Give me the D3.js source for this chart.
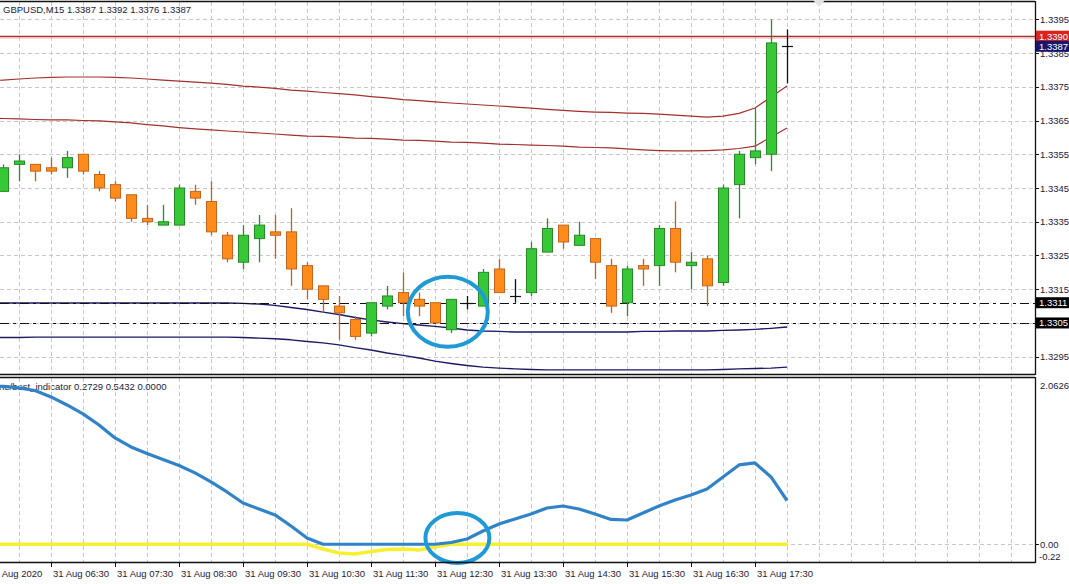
<!DOCTYPE html>
<html><head><meta charset="utf-8">
<script src="https://cdn.jsdelivr.net/npm/d3@7"></script>
<style>
body{margin:0;background:#fff}
svg{display:block}
text{font-family:"Liberation Sans",Arial,sans-serif;font-size:9.5px;fill:#1b1b3a}
</style></head>
<body><svg id="c" width="1069" height="584"></svg>
<script>
// ---------- DATA ----------
const symbolTitle = "GBPUSD,M15  1.3387 1.3392 1.3376 1.3387";
const indicatorTitle = "ne/best_indicator 0.2729 0.5432 0.0000";

// candle bars, index 0..49 (05:45 .. 18:00, 15 min)
const opens  = [1.3344,1.3352,1.3352,1.3351,1.3351,1.3355,1.3349,1.3346,1.3343,1.3336,
                1.3334,1.3334,1.3344,1.3341,1.3331,1.3323,1.3330,1.3332,1.3332,1.3322,
                1.3316,1.3310,1.3306,1.3302,1.3310,1.3314,1.3312,1.3311,1.3303,1.3311,
                1.3310,1.3321,1.3313,1.3314,1.3326,1.3334,1.3328,1.3330,1.3322,1.3311,
                1.3322,1.3322,1.3333,1.3322,1.3324,1.3317,1.3346,1.3354,1.3355,1.3387];
const highs  = [1.3352,1.3355,1.3352,1.3354,1.3356,1.3355,1.3350,1.3347,1.3343,1.3340,
                1.3340,1.3346,1.3346,1.3347,1.3332,1.3334,1.3337,1.3337,1.3339,1.3323,
                1.3316,1.3313,1.3307,1.3311,1.3316,1.3320,1.3314,1.3311,1.3312,1.3313,
                1.3321,1.3324,1.3318,1.3329,1.3336,1.3334,1.3335,1.3330,1.3324,1.3322,
                1.3324,1.3334,1.3341,1.3326,1.3325,1.3346,1.3356,1.3369,1.3395,1.3392];
const lows   = [1.3344,1.3347,1.3347,1.3349,1.3348,1.3349,1.3344,1.3341,1.3335,1.3334,
                1.3334,1.3334,1.3340,1.3331,1.3323,1.3321,1.3323,1.3324,1.3316,1.3312,
                1.3308,1.3300,1.3300,1.3301,1.3309,1.3307,1.3307,1.3305,1.3302,1.3309,
                1.3310,1.3314,1.3311,1.3313,1.3326,1.3327,1.3328,1.3318,1.3308,1.3307,
                1.3316,1.3316,1.3320,1.3315,1.3310,1.3316,1.3336,1.3352,1.3350,1.3376];
const closes = [1.3351,1.3353,1.3350,1.3350,1.3354,1.3350,1.3345,1.3342,1.3336,1.3335,
                1.3335,1.3345,1.3342,1.3332,1.3324,1.3331,1.3334,1.3331,1.3321,1.3315,
                1.3312,1.3308,1.3301,1.3311,1.3313,1.3311,1.3310,1.3305,1.3312,1.3311,
                1.3320,1.3314,1.3313,1.3327,1.3333,1.3329,1.3331,1.3323,1.3310,1.3321,
                1.3321,1.3333,1.3323,1.3323,1.3316,1.3345,1.3355,1.3356,1.3388,1.3387];

// indicator-line bars, index -1..49
const lineStart = -1;
const upperRed = [1.33767,1.33770,1.33773,1.33776,1.33778,1.33779,1.33779,1.33779,1.33778,1.33776,
                  1.33773,1.33770,1.33767,1.33764,1.33761,1.33757,1.33752,1.33749,1.33745,1.33740,
                  1.33737,1.33733,1.33730,1.33726,1.33721,1.33717,1.33712,1.33709,1.33705,1.33702,
                  1.33699,1.33696,1.33693,1.33690,1.33687,1.33683,1.33680,1.33677,1.33675,1.33674,
                  1.33672,1.33671,1.33669,1.33666,1.33663,1.33660,1.33663,1.33671,1.33687,1.33720,1.33752];
const lowerRed = [1.33658,1.33656,1.33655,1.33653,1.33652,1.33652,1.33650,1.33649,1.33646,1.33643,
                  1.33638,1.33634,1.33629,1.33625,1.33622,1.33619,1.33616,1.33613,1.33610,1.33607,
                  1.33604,1.33603,1.33601,1.33598,1.33597,1.33595,1.33592,1.33591,1.33589,1.33586,
                  1.33585,1.33583,1.33580,1.33579,1.33577,1.33576,1.33574,1.33571,1.33570,1.33569,
                  1.33566,1.33563,1.33561,1.33560,1.33560,1.33561,1.33563,1.33567,1.33574,1.33601,1.33628];
const upperNavy = [1.33109,1.33109,1.33109,1.33109,1.33109,1.33109,1.33109,1.33109,1.33109,1.33109,
                   1.33109,1.33109,1.33109,1.33109,1.33109,1.33109,1.33108,1.33106,1.33102,1.33096,
                   1.33090,1.33082,1.33075,1.33066,1.33059,1.33053,1.33048,1.33044,1.33040,1.33035,
                   1.33029,1.33026,1.33025,1.33023,1.33023,1.33023,1.33023,1.33023,1.33023,1.33023,
                   1.33023,1.33025,1.33025,1.33026,1.33026,1.33026,1.33028,1.33029,1.33031,1.33034,1.33038];
const lowerNavy = [1.33007,1.33007,1.33007,1.33008,1.33008,1.33008,1.33008,1.33008,1.33008,1.33008,
                   1.33008,1.33008,1.33008,1.33008,1.33008,1.33008,1.33007,1.33005,1.33003,1.33000,
                   1.32995,1.32991,1.32985,1.32977,1.32970,1.32961,1.32954,1.32946,1.32937,1.32930,
                   1.32924,1.32919,1.32916,1.32914,1.32912,1.32911,1.32911,1.32911,1.32911,1.32911,
                   1.32911,1.32911,1.32911,1.32911,1.32911,1.32911,1.32912,1.32914,1.32915,1.32916,1.32919];
const blueLine = [1.970,1.958,1.939,1.908,1.828,1.728,1.617,1.480,1.319,1.207,
                  1.127,1.052,0.978,0.885,0.773,0.649,0.512,0.438,0.364,0.227,
                  0.078,0,0,0,0,0,0,0,0,0.022,
                  0.066,0.165,0.252,0.314,0.376,0.450,0.475,0.438,0.376,0.308,
                  0.301,0.388,0.475,0.550,0.612,0.686,0.835,0.984,1.009,0.835,0.5432];
const yellowLine = [0,0,0,0,0,0,0,0,0,0,
                    0,0,0,0,0,0,0,0,0,0,
                    0,-0.058,-0.108,-0.120,-0.089,-0.065,-0.058,-0.071,-0.033,0,
                    0,0,0,0,0,0,0,0,0,0,
                    0,0,0,0,0,0,0,0,0,0,0];

const priceTicks = [1.3295,1.3305,1.3315,1.3325,1.3335,1.3345,1.3355,1.3365,1.3375,1.3385,1.3395];
const timeTickBars = [-1,3,7,11,15,19,23,27,31,35,39,43,47];
const timeTickLabels = ["31 Aug 2020","31 Aug 06:30","31 Aug 07:30","31 Aug 08:30","31 Aug 09:30",
  "31 Aug 10:30","31 Aug 11:30","31 Aug 12:30","31 Aug 13:30","31 Aug 14:30","31 Aug 15:30",
  "31 Aug 16:30","31 Aug 17:30"];
const levelLines = [1.3311, 1.3305];   // dash-dot lines with black tags
const redLevel = 1.3390;
const bidPrice = 1.3387;
const indTicks = [2.0626, 0.00, -0.22];
const circles = [{panel:"main", bar:27.8, value:1.33083, rx:40, ry:35},
                 {panel:"ind",  bar:28.4, value:0.078,  rx:32, ry:25}];

// ---------- LAYOUT ----------
const svg = d3.select("#c");
const W = 1035;
const mainTop = 2, mainBot = 374, indTop = 378, indBot = 562;
const x = d3.scaleLinear().domain([-3/16, 64.5]).range([0, W]);
const y = d3.scaleLinear().domain([1.328987, 1.340013]).range([mainBot, mainTop]);
const yi = d3.scaleLinear().domain([-0.22, 2.0626]).range([indBot, indTop]);

svg.append("rect").attr("width",1069).attr("height",584).attr("fill","#fff");
const defs = svg.append("defs");
defs.append("clipPath").attr("id","cm").append("rect").attr("x",0).attr("y",mainTop).attr("width",W).attr("height",mainBot-mainTop);
defs.append("clipPath").attr("id","ci").append("rect").attr("x",0).attr("y",indTop).attr("width",W).attr("height",indBot-indTop);

const gm = svg.append("g").attr("clip-path","url(#cm)");
const gi = svg.append("g").attr("clip-path","url(#ci)");

// grid
const gridBars = d3.range(1, 64, 2);
const gridC = "#c8c8c8", gridDash = "4,3";
[ [gm, mainTop, mainBot], [gi, indTop, indBot] ].forEach(([g, t, b]) => {
  g.selectAll(null).data(gridBars).join("line")
    .attr("x1", d => x(d)+0.5).attr("x2", d => x(d)+0.5).attr("y1", t).attr("y2", b)
    .attr("stroke", gridC).attr("stroke-dasharray", gridDash);
});
gm.selectAll(null).data(priceTicks).join("line")
  .attr("x1",0).attr("x2",W).attr("y1", d => Math.round(y(d))+0.5).attr("y2", d => Math.round(y(d))+0.5)
  .attr("stroke", gridC).attr("stroke-dasharray", gridDash);
gi.append("line").attr("x1",0).attr("x2",W).attr("y1",Math.round(yi(0))+0.5).attr("y2",Math.round(yi(0))+0.5)
  .attr("stroke", gridC).attr("stroke-dasharray", gridDash);

// band lines
const lineIdx = d3.range(lineStart, 50);
function drawLine(g, vals, scale, color, width){
  g.append("path").datum(vals.map((v,i)=>[lineIdx[i], v]))
   .attr("d", d3.line().x(d=>x(d[0])).y(d=>scale(d[1])))
   .attr("fill","none").attr("stroke",color).attr("stroke-width",width).attr("stroke-linejoin","round");
}
drawLine(gm, upperRed, y, "#a4302c", 1.2);
drawLine(gm, lowerRed, y, "#a4302c", 1.2);
drawLine(gm, upperNavy, y, "#1a1a66", 1.4);
drawLine(gm, lowerNavy, y, "#1a1a66", 1.4);

// level lines
gm.append("line").attr("x1",0).attr("x2",W).attr("y1",Math.round(y(redLevel))+0.5).attr("y2",Math.round(y(redLevel))+0.5)
  .attr("stroke","#a4302c").attr("stroke-width",1.3);
gm.append("line").attr("x1",0).attr("x2",W).attr("y1",Math.round(y(redLevel))+2.5).attr("y2",Math.round(y(redLevel))+2.5)
  .attr("stroke","#f2d0cc").attr("stroke-width",1);
gm.selectAll(null).data(levelLines).join("line")
  .attr("x1",0).attr("x2",W).attr("y1", d => Math.round(y(d))+0.5).attr("y2", d => Math.round(y(d))+0.5)
  .attr("stroke","#111").attr("stroke-width",1.2).attr("stroke-dasharray","9,4,3,4");

// candles
const bars = d3.range(0, 50).map(i => ({i, o:opens[i], h:highs[i], l:lows[i], c:closes[i]}));
function col(d){ return d.c > d.o ? "up" : (d.c < d.o ? "down" : "doji"); }
const wickC = {up:"#2f8a2f", down:"#c0621c", doji:"#111"};
const fillC = {up:"#37c837", down:"#ff8c1a", doji:"#111"};
const edgeC = {up:"#278a27", down:"#c4661e", doji:"#111"};
const cg = gm.append("g");
cg.selectAll(null).data(bars).join("line")
  .attr("x1", d => Math.round(x(d.i))+0.5).attr("x2", d => Math.round(x(d.i))+0.5)
  .attr("y1", d => y(d.h)).attr("y2", d => y(d.l))
  .attr("stroke", d => wickC[col(d)]).attr("stroke-width", 1.3);
cg.selectAll(null).data(bars.filter(d => col(d) !== "doji")).join("rect")
  .attr("x", d => Math.round(x(d.i)) - 5 + 0.5).attr("width", 10)
  .attr("y", d => y(Math.max(d.o, d.c))).attr("height", d => Math.max(1, y(Math.min(d.o,d.c)) - y(Math.max(d.o,d.c))))
  .attr("fill", d => fillC[col(d)]).attr("stroke", d => edgeC[col(d)]).attr("stroke-width", 1);
cg.selectAll(null).data(bars.filter(d => col(d) === "doji")).join("line")
  .attr("x1", d => Math.round(x(d.i)) - 5).attr("x2", d => Math.round(x(d.i)) + 6)
  .attr("y1", d => Math.round(y(d.o))+0.5).attr("y2", d => Math.round(y(d.o))+0.5)
  .attr("stroke", "#111").attr("stroke-width", 1.2);

// indicator lines
drawLine(gi, yellowLine, yi, "#f7f030", 3.6);
drawLine(gi, blueLine, yi, "#3083c8", 3.2);

// annotation circles
circles.forEach(c => {
  const g = c.panel === "main" ? svg : svg;
  const cy = c.panel === "main" ? y(c.value) : yi(c.value);
  g.append("ellipse").attr("cx", x(c.bar)).attr("cy", cy).attr("rx", c.rx).attr("ry", c.ry)
    .attr("fill","none").attr("stroke","#1f9ad6").attr("stroke-width",4);
});

// frames
const frame = svg.append("g").attr("stroke","#111").attr("stroke-width",1.3).attr("fill","none");
frame.append("line").attr("x1",0).attr("x2",W).attr("y1",mainTop-0.5).attr("y2",mainTop-0.5);
frame.append("line").attr("x1",0).attr("x2",W).attr("y1",mainBot+0.5).attr("y2",mainBot+0.5);
frame.append("line").attr("x1",0).attr("x2",W).attr("y1",indTop-0.5).attr("y2",indTop-0.5);
frame.append("line").attr("x1",0).attr("x2",W).attr("y1",indBot+0.5).attr("y2",indBot+0.5);
frame.append("line").attr("x1",W+0.5).attr("x2",W+0.5).attr("y1",mainTop-1).attr("y2",mainBot+1);
frame.append("line").attr("x1",W+0.5).attr("x2",W+0.5).attr("y1",indTop-1).attr("y2",indBot+1);

// chart shift marker
svg.append("path").attr("d", `M${x(51)-6},0 L${x(51)+6},0 L${x(51)},7 Z`).attr("fill","#e4e4e4");

// right price axis
const pa = svg.append("g");
pa.selectAll(null).data(priceTicks).join("line")
  .attr("x1", W).attr("x2", W+4).attr("y1", d => Math.round(y(d))+0.5).attr("y2", d => Math.round(y(d))+0.5)
  .attr("stroke","#111");
pa.selectAll(null).data(priceTicks).join("text")
  .attr("x", W+5).attr("y", d => y(d)+3.5).text(d => d.toFixed(4));

// price tags
function tag(price, bg){
  const cy = y(price);
  pa.append("rect").attr("x", W+1).attr("y", cy-5.5).attr("width", 34).attr("height", 11).attr("fill", bg);
  pa.append("text").attr("x", W+4).attr("y", cy+3.5).style("fill","#fff").text(price.toFixed(4));
}
tag(redLevel, "#d8231e");
tag(bidPrice, "#16166a");
levelLines.forEach(p => tag(p, "#000"));

// indicator axis
const ia = svg.append("g");
ia.append("line").attr("x1",W).attr("x2",W+4).attr("y1",Math.round(yi(0))+0.5).attr("y2",Math.round(yi(0))+0.5).attr("stroke","#111");
ia.append("text").attr("x", W+5).attr("y", indTop+11).text(indTicks[0].toFixed(4));
ia.append("text").attr("x", W+5).attr("y", yi(indTicks[1])+4).text(indTicks[1].toFixed(2));
ia.append("text").attr("x", W+4).attr("y", indBot-2).text(indTicks[2].toFixed(2));

// time axis
const ta = svg.append("g");
ta.selectAll(null).data(timeTickBars).join("line")
  .attr("x1", d => Math.round(x(d))+0.5).attr("x2", d => Math.round(x(d))+0.5)
  .attr("y1", indBot).attr("y2", indBot+5).attr("stroke","#111");
ta.selectAll(null).data(timeTickBars).join("text")
  .attr("x", d => x(d)+2).attr("y", 577).text((d,i) => timeTickLabels[i]);

// titles
svg.append("text").attr("x",3).attr("y",12.5).text(symbolTitle);
svg.insert("text", "g").attr("x",-1).attr("y",390).text(indicatorTitle);
</script></body></html>
